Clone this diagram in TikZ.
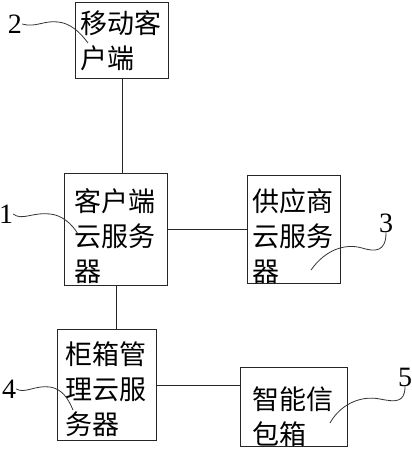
\documentclass[tikz,border=0pt]{standalone}
\usepackage{fontspec}
\setmainfont{Liberation Serif}
\newfontfamily\cjk{Noto Sans CJK SC}
\usetikzlibrary{positioning}
\newcommand\liftby[1]{\rule{0pt}{#1}}
\tikzset{
  unitbox/.style = {rectangle, draw=black!85, line width=1.2pt, anchor=north west,
                    inner sep=0pt, text width=84pt, align=left,
                    font=\cjk\fontsize{27}{35}\selectfont},
  tag/.style     = {inner sep=0pt, font=\fontsize{28}{30}\selectfont},
  link/.style    = {draw=black!85, line width=1.1pt},
  lead/.style    = {draw=black!80, line width=0.8pt},
}

\begin{document}
\begin{tikzpicture}[x=1pt, y=-1pt]
\useasboundingbox (0,0) rectangle (412,450);

%% ── Boxes ─────────────────────────────────────────────────
\node[unitbox, minimum width=93pt,  minimum height=76pt]  (mobile)     at (75,2)    {移动客\\户端};
\node[unitbox, minimum width=103pt, minimum height=112pt] (clientsrv)  at (64,173)  {\liftby{36pt}客户端\\云服务\\器};
\node[unitbox, minimum width=93pt,  minimum height=108pt] (supplysrv)  at (247,175) {\liftby{36pt}供应商\\云服务\\器};
\node[unitbox, minimum width=99pt,  minimum height=111pt] (cabinetsrv) at (57,329)  {\liftby{30pt}柜箱管\\理云服\\务器};
\node[unitbox, minimum width=107pt, minimum height=79pt]  (mailbox)    at (240,367) {\liftby{42pt}智能信\\包箱};

%% ── Reference numerals ────────────────────────────────────
\node[tag] (tag2) at (15,24)   {2};
\node[tag] (tag1) at (6,214)   {1};
\node[tag] (tag3) at (386,223) {3};
\node[tag] (tag4) at (9,389)   {4};
\node[tag] (tag5) at (405,377) {5};

\coordinate (pin2) at (88,43);
\coordinate (pin1) at (78,234);
\coordinate (pin3) at (311,270);
\coordinate (pin4) at (73,410);
\coordinate (pin5) at (330,423);

%% ── Connectors ────────────────────────────────────────────
\draw[link] (mobile.south) -- (mobile.south |- clientsrv.north);
\draw[link] (clientsrv.east) -- (clientsrv.east -| supplysrv.west);
\draw[link] (clientsrv.south) -- (clientsrv.south |- cabinetsrv.north);
\draw[link] (cabinetsrv.east) -- (cabinetsrv.east -| mailbox.west);

%% ── Leader lines ──────────────────────────────────────────
\draw[lead] (tag2.east) .. controls (35,28) and (45,20) .. (58,22)
                        .. controls (70,23) and (80,32) .. (pin2);
\draw[lead] (tag1.east) .. controls (22,221) and (32,212) .. (50,214)
                        .. controls (62,215) and (72,224) .. (pin1);
\draw[lead] (tag3.south) .. controls (386,252) and (375,252) .. (362,248)
                         .. controls (345,243) and (325,250) .. (pin3);
\draw[lead] (tag4.east) .. controls (25,394) and (35,385) .. (50,387)
                        .. controls (62,389) and (68,398) .. (pin4);
\draw[lead] (tag5.south) .. controls (405,403) and (395,402) .. (380,399)
                         .. controls (360,395) and (340,405) .. (pin5);

\end{tikzpicture}
\end{document}
